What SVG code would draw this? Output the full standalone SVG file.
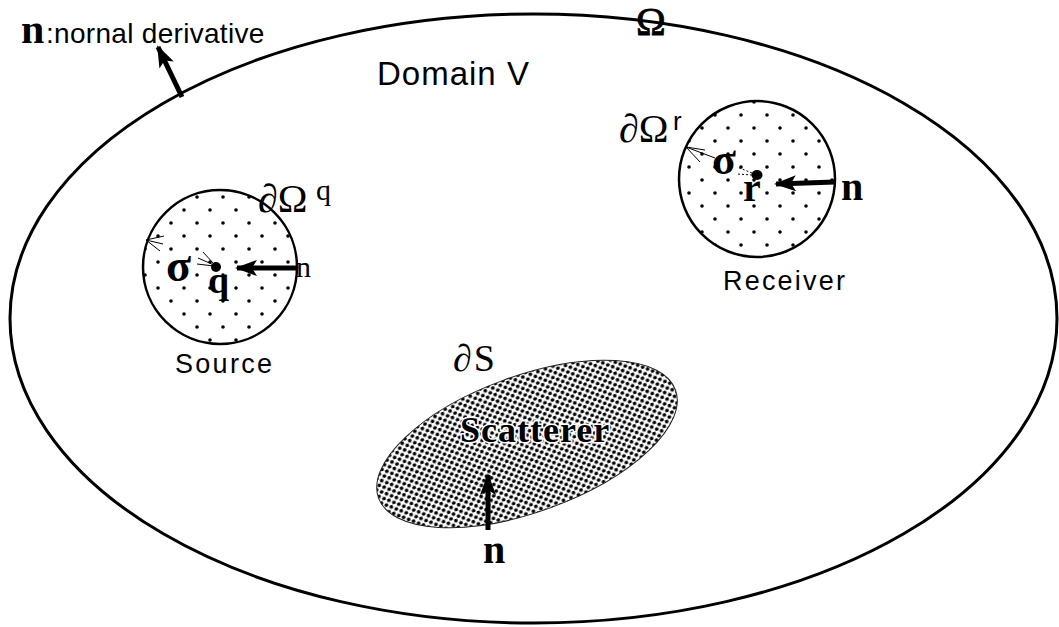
<svg xmlns="http://www.w3.org/2000/svg" width="1059" height="627" viewBox="0 0 1059 627">
<style>
.sans{font-family:"Liberation Sans",Arial,sans-serif;fill:#000}
.serif{font-family:"Liberation Serif","Times New Roman",serif;fill:#000}
.b{font-weight:bold}
.thin{stroke:#000;stroke-width:1;fill:none}
.shaft{stroke:#000;stroke-width:5;fill:none}
</style>
<defs>
<pattern id="sparse" width="26" height="26" patternUnits="userSpaceOnUse">
<circle cx="2" cy="2" r="1.8" fill="#000"/>
<circle cx="15" cy="15" r="1.8" fill="#000"/>
</pattern>
<pattern id="sparseR" width="26" height="26" patternUnits="userSpaceOnUse" x="700" y="126">
<circle cx="2" cy="2" r="1.8" fill="#000"/>
<circle cx="15" cy="15" r="1.8" fill="#000"/>
</pattern>
<pattern id="dense" width="8" height="7" patternUnits="userSpaceOnUse">
<circle cx="2" cy="1.75" r="1.85" fill="#000"/>
<circle cx="6" cy="5.25" r="1.85" fill="#000"/>
</pattern>
<marker id="head" viewBox="0 0 22 16" refX="20" refY="8" markerWidth="22" markerHeight="16" markerUnits="userSpaceOnUse" orient="auto">
<path d="M0,0 L22,8 L0,16 L5,8 z" fill="#000"/>
</marker>
</defs>
<rect width="1059" height="627" fill="#fff"/>

<g id="domain">
<ellipse cx="533.5" cy="318.5" rx="523.5" ry="304.5" fill="none" stroke="#000" stroke-width="3"/>
<text class="sans" x="377" y="85" font-size="33" letter-spacing="1">Domain V</text>
<text class="serif" x="636" y="35" font-size="40" stroke="#000" stroke-width="0.8">Ω</text>
<text class="serif b" x="21" y="43" font-size="42">n</text>
<text class="sans" x="46" y="43" font-size="28" letter-spacing="0.3">:nornal derivative</text>
</g>

<g id="source">
<circle cx="220" cy="267" r="77" fill="url(#sparse)" stroke="#000" stroke-width="2.5"/>
<circle cx="216" cy="267" r="5" fill="#000"/>
<text class="serif" x="258" y="212" font-size="40">∂Ω</text>
<text class="serif" x="316" y="200" font-size="30">q</text>
<text class="serif b" x="166" y="281" font-size="46">σ</text>
<text class="serif b" x="208" y="293" font-size="38">q</text>
<text class="serif" x="296" y="277" font-size="30">n</text>
<text class="sans" x="175" y="373" font-size="27" letter-spacing="2.3">Source</text>
</g>

<g id="receiver">
<circle cx="757" cy="179" r="78" fill="url(#sparseR)" stroke="#000" stroke-width="2.5"/>
<ellipse cx="757" cy="175" rx="5.5" ry="5" fill="#000"/>
<text class="serif" x="619" y="142" font-size="40">∂Ω</text>
<text class="sans" x="673" y="130" font-size="26">r</text>
<text class="serif b" x="712" y="174" font-size="44">σ</text>
<text class="serif b" x="743" y="201" font-size="40">r</text>
<text class="serif b" x="841" y="200" font-size="40">n</text>
<text class="sans" x="723" y="290" font-size="27" letter-spacing="2.2">Receiver</text>
</g>

<g id="scatterer">
<ellipse cx="527" cy="444" rx="158" ry="68" transform="rotate(-20 527 444)" fill="url(#dense)" stroke="#222" stroke-width="1"/>
<text class="serif" x="453" y="371" font-size="38" letter-spacing="2" fill="#222">∂S</text>
<text class="serif b" x="460" y="442" font-size="36" letter-spacing="1" stroke="#fff" stroke-width="3" paint-order="stroke">Scatterer</text>
<text class="serif b" x="483" y="563" font-size="40">n</text>
</g>

<g id="connectors">
<line class="shaft" x1="182" y1="97" x2="158" y2="47" marker-end="url(#head)"/>
<line class="shaft" x1="296" y1="268" x2="237" y2="268" marker-end="url(#head)"/>
<line class="shaft" x1="835" y1="182" x2="776" y2="184" marker-end="url(#head)"/>
<line class="shaft" x1="488" y1="530" x2="488" y2="475" marker-end="url(#head)"/>
<path class="thin" d="M146,240 L164,236 M146,240 L163,244 M146,240 L160,251"/>
<path class="thin" d="M214,265 L198,258 M214,264 L203,252 M214,266 L197,264"/>
<path class="thin" d="M686,147 L705,150 M686,147 L715,158 M686,147 L700,162"/>
<path class="thin" d="M752,173 L737,167 M752,175 L737,174" stroke-dasharray="2 2"/>
</g>
</svg>
